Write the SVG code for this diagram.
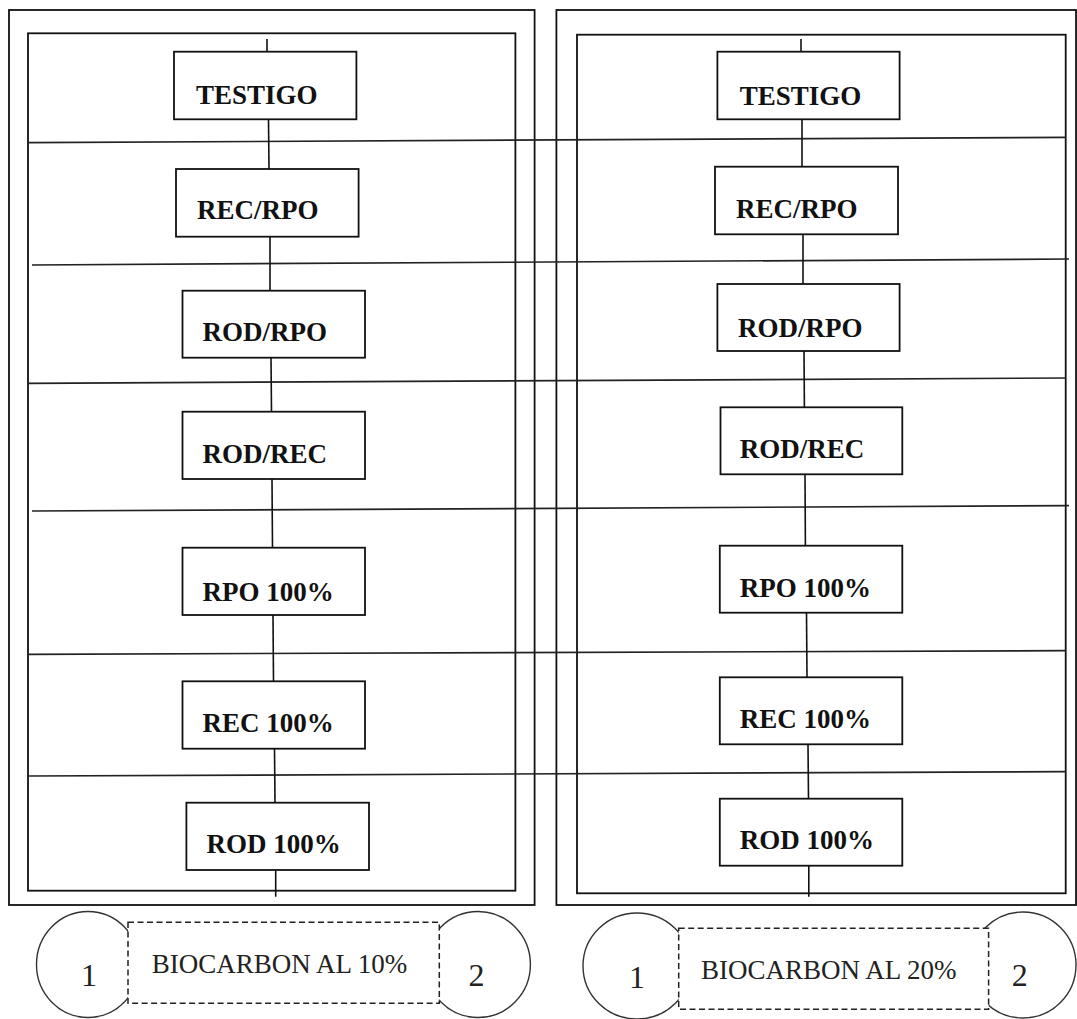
<svg xmlns="http://www.w3.org/2000/svg" width="1077" height="1019" viewBox="0 0 1077 1019">
<defs>
<style>
.frame{fill:none;stroke:#111;stroke-width:1.8}
.box{fill:#fff;stroke:#111;stroke-width:1.8}
.lbl{font-family:"Liberation Serif","Times New Roman",serif;font-weight:bold;font-size:27px;fill:#111}
.conn{stroke:#111;stroke-width:1.6;fill:none}
.hl{stroke:#222;stroke-width:1.7;fill:none}
.circ{fill:#fff;stroke:#333;stroke-width:1.4}
.dash{fill:#fff;stroke:#222;stroke-width:1.5;stroke-dasharray:6 3.5}
.leg{font-family:"Liberation Serif","Times New Roman",serif;font-size:27px;fill:#222}
.num{font-family:"Liberation Serif","Times New Roman",serif;font-size:32px;fill:#222;text-anchor:middle}
</style>
</defs>
<rect width="1077" height="1019" fill="#fff"/>

<g id="frames">
<rect class="frame" x="9" y="10" width="525.6" height="895"/>
<rect class="frame" x="28" y="33.3" width="487.4" height="857.4"/>
<rect class="frame" x="556.4" y="10" width="519.6" height="895"/>
<rect class="frame" x="577" y="34.7" width="488.7" height="858.6"/>
</g>

<g id="connectors">
<line class="hl" x1="28" y1="142.7" x2="1066" y2="137.3"/>
<line class="hl" x1="32" y1="265" x2="1069" y2="259"/>
<line class="hl" x1="28" y1="383.3" x2="1066" y2="378"/>
<line class="hl" x1="32" y1="511" x2="1069" y2="505.7"/>
<line class="hl" x1="28" y1="654.3" x2="1066" y2="650.7"/>
<line class="hl" x1="28" y1="776" x2="1066" y2="771.7"/>

<line class="conn" x1="267" y1="39" x2="267" y2="51.7"/>
<line class="conn" x1="268.5" y1="119.3" x2="269" y2="169"/>
<line class="conn" x1="270" y1="236.7" x2="270" y2="290.7"/>
<line class="conn" x1="271" y1="357.7" x2="271.5" y2="411.7"/>
<line class="conn" x1="272" y1="479" x2="272.5" y2="547.7"/>
<line class="conn" x1="273" y1="615" x2="273.5" y2="681.3"/>
<line class="conn" x1="274.5" y1="748.7" x2="275" y2="802.7"/>
<line class="conn" x1="275.7" y1="870" x2="275.7" y2="896.7"/>

<line class="conn" x1="801" y1="39" x2="801" y2="51.7"/>
<line class="conn" x1="802" y1="119.3" x2="802" y2="166.7"/>
<line class="conn" x1="803" y1="234.3" x2="803" y2="284"/>
<line class="conn" x1="804" y1="351" x2="804.4" y2="407.3"/>
<line class="conn" x1="805" y1="474.3" x2="805.4" y2="545.7"/>
<line class="conn" x1="806.5" y1="612.7" x2="807" y2="677.3"/>
<line class="conn" x1="808" y1="744.3" x2="808.5" y2="798.7"/>
<line class="conn" x1="808.8" y1="865.7" x2="808.8" y2="896.7"/>
</g>

<g id="L-testigo"><rect class="box" x="174" y="51.7" width="182.4" height="67.6"/><text class="lbl" x="196" y="103.5">TESTIGO</text></g>
<g id="L-recrpo"><rect class="box" x="176" y="169" width="182.6" height="67.7"/><text class="lbl" x="197" y="219">REC/RPO</text></g>
<g id="L-rodrpo"><rect class="box" x="182.5" y="290.7" width="182.5" height="67"/><text class="lbl" x="202.5" y="341">ROD/RPO</text></g>
<g id="L-rodrec"><rect class="box" x="182.5" y="411.7" width="182.5" height="67.3"/><text class="lbl" x="202.5" y="462.7">ROD/REC</text></g>
<g id="L-rpo100"><rect class="box" x="182.5" y="547.7" width="182.5" height="67.3"/><text class="lbl" x="202.5" y="600.7">RPO 100%</text></g>
<g id="L-rec100"><rect class="box" x="182.5" y="681.3" width="182.5" height="67.4"/><text class="lbl" x="202.5" y="732.3">REC 100%</text></g>
<g id="L-rod100"><rect class="box" x="186.4" y="802.7" width="182.6" height="67.3"/><text class="lbl" x="206.4" y="852.7">ROD 100%</text></g>

<g id="R-testigo"><rect class="box" x="717.4" y="51.7" width="182.2" height="67.6"/><text class="lbl" x="739.7" y="105">TESTIGO</text></g>
<g id="R-recrpo"><rect class="box" x="715" y="166.7" width="183" height="67.6"/><text class="lbl" x="736" y="218.3">REC/RPO</text></g>
<g id="R-rodrpo"><rect class="box" x="717.4" y="284" width="182.2" height="67"/><text class="lbl" x="738" y="336.7">ROD/RPO</text></g>
<g id="R-rodrec"><rect class="box" x="720.5" y="407.3" width="181.8" height="67"/><text class="lbl" x="739.7" y="458.3">ROD/REC</text></g>
<g id="R-rpo100"><rect class="box" x="719.8" y="545.7" width="182.5" height="67"/><text class="lbl" x="739.7" y="596.7">RPO 100%</text></g>
<g id="R-rec100"><rect class="box" x="719.8" y="677.3" width="182.5" height="67"/><text class="lbl" x="739.7" y="728.3">REC 100%</text></g>
<g id="R-rod100"><rect class="box" x="719.8" y="798.7" width="182.5" height="67"/><text class="lbl" x="739.7" y="849.3">ROD 100%</text></g>

<g id="legend-10">
<ellipse class="circ" cx="88" cy="964.5" rx="51.5" ry="53"/>
<ellipse class="circ" cx="478" cy="964.5" rx="52.4" ry="53"/>
<rect class="dash" x="128" y="922.3" width="311.3" height="81"/>
<text class="num" x="89" y="986">1</text>
<text class="leg" x="151.8" y="973.3">BIOCARBON AL 10%</text>
<text class="num" x="476.5" y="986">2</text>
</g>

<g id="legend-20">
<ellipse class="circ" cx="637" cy="966" rx="54" ry="53"/>
<ellipse class="circ" cx="1023" cy="965" rx="53" ry="53"/>
<rect class="dash" x="678.7" y="928.3" width="309.9" height="81"/>
<text class="num" x="637" y="988.3">1</text>
<text class="leg" x="701" y="979">BIOCARBON AL 20%</text>
<text class="num" x="1019.8" y="986">2</text>
</g>
</svg>
